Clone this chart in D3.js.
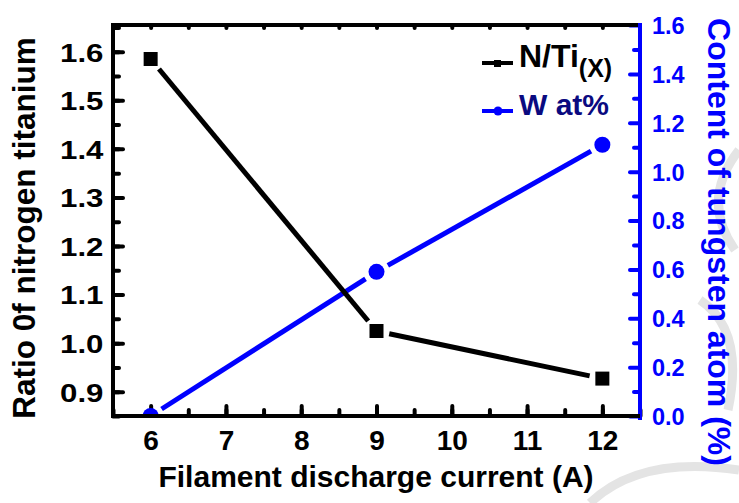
<!DOCTYPE html>
<html>
<head>
<meta charset="utf-8">
<script src="https://cdnjs.cloudflare.com/ajax/libs/d3/7.8.5/d3.min.js"></script>
<style>
  body { margin: 0; background: #fff; }
  svg text { font-family: "Liberation Sans", Arial, sans-serif; font-weight: bold; }
</style>
</head>
<body>
<div id="chart"></div>
<script>
// data
var currents = [6, 9, 12];
var ratioNTi = [1.585, 1.025, 0.927];
var tungstenAt = [0.0, 0.59, 1.11];

var xTicks = [6, 7, 8, 9, 10, 11, 12];
var leftTicks = [0.9, 1.0, 1.1, 1.2, 1.3, 1.4, 1.5, 1.6];
var rightTicks = [0.0, 0.2, 0.4, 0.6, 0.8, 1.0, 1.2, 1.4, 1.6];

var width = 739, height = 503;
var m = {left: 113, right: 99, top: 25, bottom: 87};
var blue = '#0000ff';

var svg = d3.select('#chart').append('svg')
    .attr('width', width)
    .attr('height', height);

// faint watermark arcs
var wm = svg.append('g').attr('fill', 'none').attr('stroke', '#e4e4e4').attr('stroke-width', 9);
wm.append('path').attr('d', 'M590,503 Q640,455 739,470');
wm.append('path').attr('d', 'M700,300 Q745,330 728,410');
wm.append('path').attr('d', 'M735,250 Q700,200 739,150');

var x = d3.scaleLinear().domain([5.5, 12.5]).range([m.left, width - m.right]);
var yL = d3.scaleLinear().domain([0.85, 1.655]).range([height - m.bottom, m.top]);
var yR = d3.scaleLinear().domain([0, 1.6]).range([height - m.bottom, m.top]);

var x0 = m.left, x1 = width - m.right, y0 = height - m.bottom, y1 = m.top;

function range(a, b, s) {
    var out = [];
    for (var v = a; v <= b + 1e-9; v += s) out.push(+v.toFixed(3));
    return out;
}

function styleAxis(g, color) {
    g.select('.domain').remove();
    g.selectAll('line').attr('stroke', color).attr('stroke-width', 4).attr('stroke-linecap', 'round');
    g.selectAll('text').attr('fill', color)
        .attr('font-family', '"Liberation Sans", Arial, sans-serif').attr('font-weight', 'bold');
}

// minor ticks
svg.append('g').attr('transform', 'translate(0,' + y0 + ')')
    .call(d3.axisBottom(x).tickValues(range(5.5, 12.5, 0.5)).tickSize(-6).tickFormat(''))
    .call(styleAxis, '#000');
svg.append('g').attr('transform', 'translate(0,' + y1 + ')')
    .call(d3.axisTop(x).tickValues(range(6, 12, 0.5)).tickSize(-3).tickFormat(''))
    .call(styleAxis, '#000');
svg.append('g').attr('transform', 'translate(' + x0 + ',0)')
    .call(d3.axisLeft(yL).tickValues(range(0.85, 1.65, 0.05)).tickSize(-6).tickFormat(''))
    .call(styleAxis, '#000');
svg.append('g').attr('transform', 'translate(' + x1 + ',0)')
    .call(d3.axisRight(yR).tickValues(range(0.1, 1.5, 0.2)).tickSize(-6).tickFormat(''))
    .call(styleAxis, blue);

// major ticks + labels
svg.append('g').attr('transform', 'translate(0,' + y0 + ')')
    .call(d3.axisBottom(x).tickValues(xTicks).tickSize(-10).tickPadding(14).tickFormat(d3.format('d')))
    .call(styleAxis, '#000')
    .selectAll('text').attr('font-size', 28);
svg.append('g').attr('transform', 'translate(' + x0 + ',0)')
    .call(d3.axisLeft(yL).tickValues(leftTicks).tickSize(-10).tickPadding(8).tickFormat(d3.format('.1f')))
    .call(styleAxis, '#000')
    .selectAll('text').attr('font-size', 26).attr('dy', '0.36em')
    .attr('transform', 'scale(1.2,1)');
svg.append('g').attr('transform', 'translate(' + x1 + ',0)')
    .call(d3.axisRight(yR).tickValues(rightTicks).tickSize(-10).tickPadding(12).tickFormat(d3.format('.1f')))
    .call(styleAxis, blue)
    .selectAll('text').attr('font-size', 23.5).attr('dy', '0.36em');

// frame
svg.append('path')
    .attr('d', 'M' + x1 + ',' + y1 + 'H' + x0 + 'V' + y0 + 'H' + x1)
    .attr('fill', 'none').attr('stroke', '#000').attr('stroke-width', 4)
    .attr('stroke-linecap', 'square');
svg.append('line')
    .attr('x1', x1).attr('x2', x1).attr('y1', y1).attr('y2', y0 + 2)
    .attr('stroke', blue).attr('stroke-width', 4).attr('stroke-linecap', 'square');

// plot clip
svg.append('clipPath').attr('id', 'plot')
    .append('rect').attr('x', x0).attr('y', y1 - 20).attr('width', x1 - x0 + 20).attr('height', y0 - y1 + 18);

var plot = svg.append('g').attr('clip-path', 'url(#plot)');

// segments with gaps round the markers
function gapped(xs, ys, sx, sy, gap) {
    var segs = [];
    for (var i = 0; i < xs.length - 1; i++) {
        var ax = sx(xs[i]), ay = sy(ys[i]), bx = sx(xs[i + 1]), by = sy(ys[i + 1]);
        var dx = bx - ax, dy = by - ay, len = Math.sqrt(dx * dx + dy * dy);
        var ux = dx / len, uy = dy / len;
        segs.push([ax + ux * gap, ay + uy * gap, bx - ux * gap, by - uy * gap]);
    }
    return segs;
}

// tungsten series (blue)
plot.selectAll('line.w').data(gapped(currents, tungstenAt, x, yR, 13)).enter().append('line')
    .attr('x1', function(d) { return d[0]; }).attr('y1', function(d) { return d[1]; })
    .attr('x2', function(d) { return d[2]; }).attr('y2', function(d) { return d[3]; })
    .attr('stroke', blue).attr('stroke-width', 5);
plot.selectAll('circle.w').data(currents).enter().append('circle')
    .attr('cx', function(d) { return x(d); })
    .attr('cy', function(d, i) { return yR(tungstenAt[i]); })
    .attr('r', 8).attr('fill', blue);

// N/Ti series (black)
plot.selectAll('line.n').data(gapped(currents, ratioNTi, x, yL, 13)).enter().append('line')
    .attr('x1', function(d) { return d[0]; }).attr('y1', function(d) { return d[1]; })
    .attr('x2', function(d) { return d[2]; }).attr('y2', function(d) { return d[3]; })
    .attr('stroke', '#000').attr('stroke-width', 5);
plot.selectAll('rect.n').data(currents).enter().append('rect')
    .attr('x', function(d) { return x(d) - 7; })
    .attr('y', function(d, i) { return yL(ratioNTi[i]) - 7; })
    .attr('width', 14).attr('height', 14).attr('fill', '#000');

// redraw bottom frame line over the clipped marker
svg.append('line').attr('x1', x0).attr('x2', x1).attr('y1', y0).attr('y2', y0)
    .attr('stroke', '#000').attr('stroke-width', 4);

// legend
var lg = svg.append('g');
lg.append('line').attr('x1', 482).attr('x2', 513).attr('y1', 63).attr('y2', 63)
    .attr('stroke', '#000').attr('stroke-width', 4);
lg.append('rect').attr('x', 494).attr('y', 60).attr('width', 7).attr('height', 7).attr('fill', '#000');
var t1 = lg.append('text').attr('x', 519).attr('y', 67).attr('font-size', 32).attr('fill', '#000');
t1.append('tspan').text('N/Ti');
t1.append('tspan').attr('dy', 10).attr('font-size', 25).text('(X)');
lg.append('line').attr('x1', 482).attr('x2', 513).attr('y1', 111).attr('y2', 111)
    .attr('stroke', blue).attr('stroke-width', 4);
lg.append('circle').attr('cx', 498).attr('cy', 111).attr('r', 4.5).attr('fill', blue);
lg.append('text').attr('x', 519).attr('y', 115).attr('font-size', 30).attr('fill', '#0a0a80').text('W at%');

// axis titles
svg.append('text').attr('x', 376).attr('y', 487)
    .attr('text-anchor', 'middle').attr('font-size', 30).attr('fill', '#000')
    .text('Filament discharge current (A)');
svg.append('text').attr('transform', 'translate(35,228) rotate(-90)')
    .attr('text-anchor', 'middle').attr('font-size', 31.5).attr('fill', '#000')
    .text('Ratio 0f nitrogen titanium');
svg.append('text').attr('transform', 'translate(708,242) rotate(90)')
    .attr('text-anchor', 'middle').attr('font-size', 32).attr('fill', blue)
    .text('Content of tungsten atom (%)');
</script>
</body>
</html>
